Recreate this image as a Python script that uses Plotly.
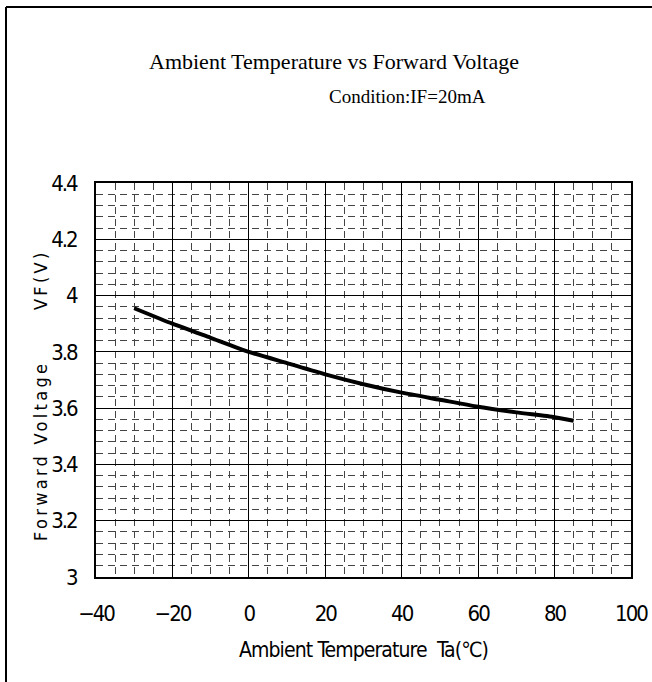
import plotly.graph_objects as go

# Forward voltage vs ambient temperature, IF = 20 mA
ta_c = [-30, -20, -10, 0, 10, 20, 30, 40, 50, 60, 70, 80, 85]
vf_v = [3.955, 3.900, 3.850, 3.800, 3.760, 3.720, 3.685, 3.655, 3.630, 3.605, 3.585, 3.568, 3.555]

x_ticks = [-40, -20, 0, 20, 40, 60, 80, 100]
y_ticks = [3, 3.2, 3.4, 3.6, 3.8, 4, 4.2, 4.4]

title_text = "Ambient Temperature vs Forward Voltage"
condition_text = "Condition:IF=20mA"
x_title = "Ambient Temperature\u00a0\u00a0Ta(\u2103)"
y_title = "Forward Voltage" + "\u00a0" * 6 + "VF(V)"

sans = "DejaVu Sans Condensed, Liberation Sans Narrow, Noto Sans CJK JP, sans-serif"
serif = "Liberation Serif, Times New Roman, serif"

W, H = 652, 682
PL, PR, PT, PB = 96, 631, 183, 577  # plot-area edges in pixels


def spaced(text, px):
    """Wrap text in a span with the given letter spacing."""
    return '<span style="letter-spacing:%spx">%s</span>' % (px, text)


fig = go.Figure()
fig.add_trace(go.Scatter(
    x=ta_c, y=vf_v, mode="lines",
    line=dict(color="black", width=4, shape="spline", smoothing=0.6),
    showlegend=False, hoverinfo="skip",
))

grid_minor = dict(showgrid=True, gridcolor="#444444", gridwidth=1, griddash="7px,5px")
tick_font = dict(family=sans, size=22, color="black")

fig.update_xaxes(
    range=[-40, 100], tickvals=x_ticks,
    ticktext=[spaced(str(v).replace("-", "\u2212"), -2) for v in x_ticks],
    showgrid=True, gridcolor="black", gridwidth=1,
    minor=dict(dtick=5, tick0=-40, **grid_minor),
    showline=True, linecolor="black", linewidth=2, mirror=True,
    ticks="", zeroline=False, automargin=False, ticklabelstandoff=16,
    tickfont=tick_font,
)
fig.update_yaxes(
    range=[3, 4.4], tickvals=y_ticks,
    ticktext=[spaced("%g" % v, -2) for v in y_ticks],
    showgrid=True, gridcolor="black", gridwidth=1,
    minor=dict(dtick=0.04, tick0=3, **grid_minor),
    showline=True, linecolor="black", linewidth=2, mirror=True,
    ticks="", zeroline=False, automargin=False, ticklabelstandoff=13,
    tickfont=tick_font,
)

annotations = [
    dict(text=title_text, x=334, y=62, font=dict(family=serif, size=22, color="black")),
    dict(text=condition_text, x=407, y=96, font=dict(family=serif, size=19, color="black")),
    dict(text=spaced(x_title, -0.9), x=363, y=650, font=dict(family=sans, size=21, color="black")),
    dict(text=spaced(y_title, 3.3), x=40, y=395, textangle=-90,
         font=dict(family=sans, size=18, color="black")),
]
for a in annotations:
    fig.add_annotation(
        text=a["text"], xref="paper", yref="paper",
        x=(a["x"] - PL) / (PR - PL), y=(PB - a["y"]) / (PB - PT),
        xanchor="center", yanchor="middle", showarrow=False,
        font=a["font"], textangle=a.get("textangle", 0),
    )

# outer frame (left and top edges)
fx = (6 - PL) / (PR - PL)
fy = (PB - 7) / (PB - PT)
fig.add_shape(type="line", xref="paper", yref="paper",
              x0=fx, x1=fx, y0=fy, y1=(PB - H) / (PB - PT),
              line=dict(color="black", width=2))
fig.add_shape(type="line", xref="paper", yref="paper",
              x0=fx, x1=(W - PL) / (PR - PL), y0=fy, y1=fy,
              line=dict(color="black", width=2))

fig.update_layout(
    width=W, height=H,
    margin=dict(l=PL, r=W - PR, t=PT, b=H - PB, autoexpand=False),
    paper_bgcolor="white", plot_bgcolor="white",
    showlegend=False,
)

fig.write_html("out.html")
